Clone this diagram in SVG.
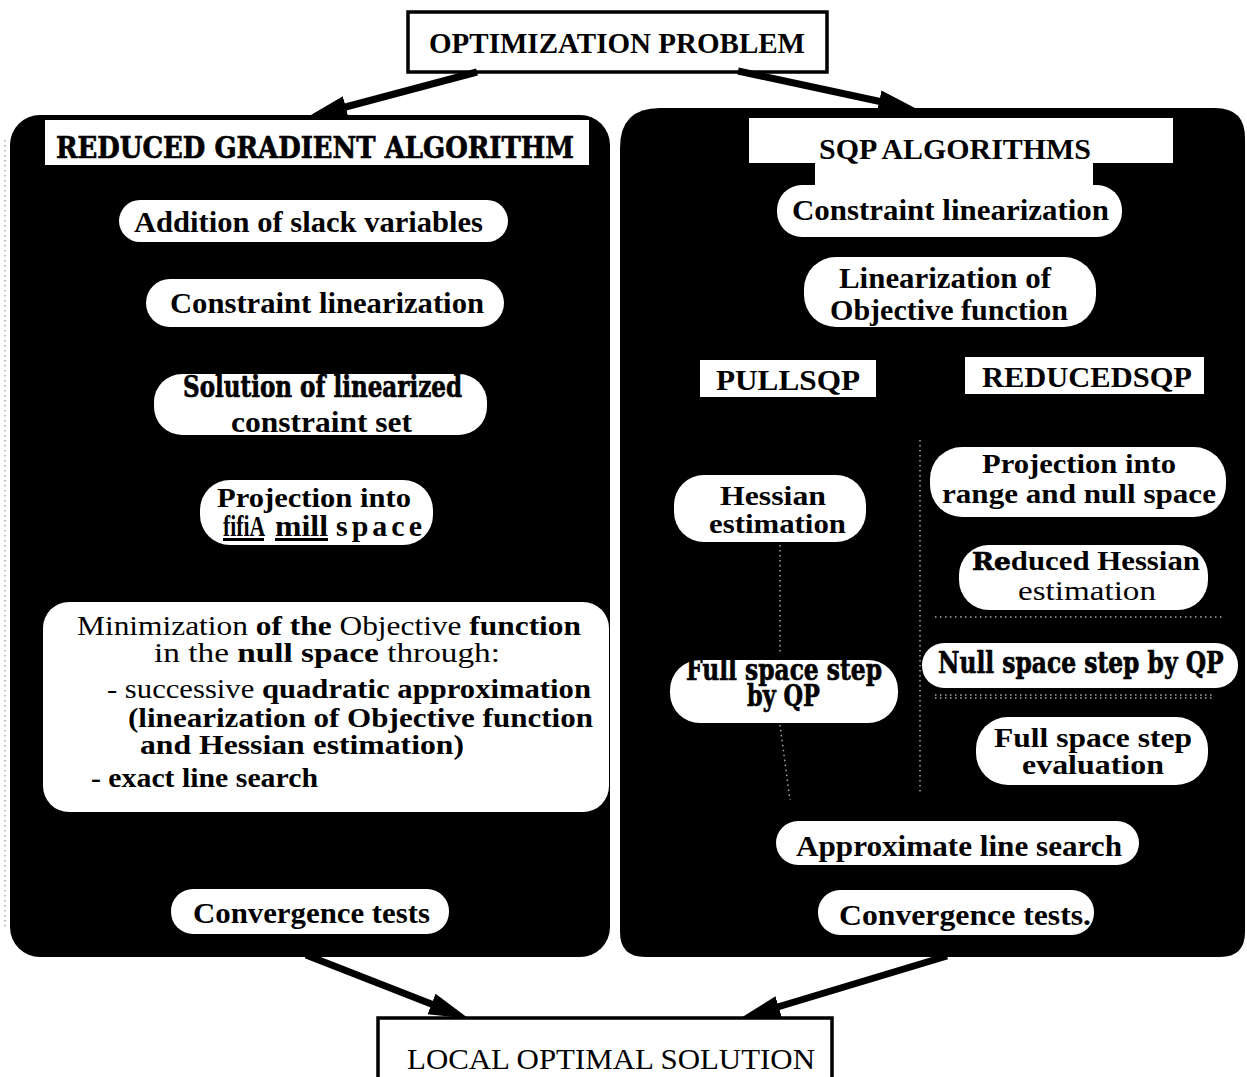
<svg xmlns="http://www.w3.org/2000/svg" width="1247" height="1077" viewBox="0 0 1247 1077">
<style>
.t{font-family:"Liberation Serif","Times New Roman",serif;font-weight:bold;font-size:30px;fill:#000}
.r{font-weight:normal}
.h{font-family:"DejaVu Serif","Liberation Serif",serif;font-weight:bold;stroke:#000;stroke-width:0.7}
.s{font-size:28px}
.pill{fill:#fff}
.panel{fill:#000}
.box{fill:#fff;stroke:#000;stroke-width:3.5}
.dot{stroke:#aaa;stroke-width:1.5;stroke-dasharray:1.5 3.5;fill:none}
.conn{stroke:#000;stroke-width:7;fill:none;marker-end:url(#ah)}
</style>
<defs>
<marker id="ah" markerUnits="userSpaceOnUse" viewBox="0 0 40 24" refX="8" refY="12" markerWidth="40" markerHeight="24" orient="auto">
<path d="M0,1 L40,12 L0,23 Z" fill="#000"/>
</marker>
</defs>
<rect width="1247" height="1077" fill="#fff"/>

<g id="top-node">
<rect class="box" x="408" y="12" width="419" height="60"/>
<text class="t" x="429" y="53" font-size="34" textLength="376" lengthAdjust="spacingAndGlyphs">OPTIMIZATION PROBLEM</text>
</g>

<g id="reduced-gradient-panel">
<rect class="panel" x="10" y="115" width="600" height="842" rx="30"/>
<line class="dot" x1="5" y1="140" x2="5" y2="930"/>
<rect fill="#fff" x="45" y="120" width="544" height="45"/>
<text class="t h" x="56" y="158" font-size="23" textLength="518" lengthAdjust="spacingAndGlyphs">REDUCED GRADIENT ALGORITHM</text>
</g>

<g id="sqp-panel">
<path class="panel" d="M660,108 H1215 Q1245,108 1245,138 V932 Q1245,957 1220,957 H645 Q620,957 620,932 V148 Q620,108 660,108 Z"/>
<path fill="#fff" d="M749,118 H1173 V163 H1093 V200 H815 V163 H749 Z"/>
<text class="t" x="819" y="159" font-size="32" textLength="272" lengthAdjust="spacingAndGlyphs">SQP ALGORITHMS</text>
<line class="dot" x1="920" y1="440" x2="920" y2="795"/>
<line class="dot" x1="780" y1="545" x2="780" y2="655"/>
<line class="dot" x1="780" y1="725" x2="790" y2="800"/>
<line class="dot" x1="935" y1="617" x2="1225" y2="617"/>
<line class="dot" x1="935" y1="695" x2="1215" y2="695"/>
<line class="dot" x1="935" y1="698" x2="1215" y2="698"/>
</g>

<g id="n-addition">
<rect class="pill" x="119" y="200" width="389" height="42" rx="21"/>
<text class="t" x="134" y="232" textLength="349" lengthAdjust="spacingAndGlyphs">Addition of slack variables</text>
</g>
<g id="n-constraint-lin-left">
<rect class="pill" x="146" y="279" width="358" height="48" rx="24"/>
<text class="t" x="170" y="313" textLength="314" lengthAdjust="spacingAndGlyphs">Constraint linearization</text>
</g>
<g id="n-solution">
<rect class="pill" x="154" y="374" width="333" height="61" rx="28"/>
<text class="t h" x="183" y="397" font-size="23" textLength="279" lengthAdjust="spacingAndGlyphs">Solution of linearized</text>
<text class="t" x="231" y="432" textLength="181" lengthAdjust="spacingAndGlyphs">constraint set</text>
</g>
<g id="n-projection-left">
<rect class="pill" x="200" y="480" width="233" height="65" rx="30"/>
<text class="t s" x="217" y="507" textLength="194" lengthAdjust="spacingAndGlyphs">Projection into</text>
<text class="t" y="536" font-size="22"><tspan x="223" text-decoration="underline" textLength="41" lengthAdjust="spacingAndGlyphs">fifiA</tspan> <tspan x="275" text-decoration="underline" textLength="53" lengthAdjust="spacingAndGlyphs">mill</tspan> <tspan x="336" letter-spacing="4">space</tspan></text>
</g>
<g id="n-minimization">
<rect class="pill" x="43" y="602" width="566" height="210" rx="26"/>
<text class="t s" x="77" y="635" textLength="504" lengthAdjust="spacingAndGlyphs"><tspan class="r">Minimization </tspan>of the<tspan class="r"> Objective </tspan>function</text>
<text class="t s" x="154" y="662" textLength="346" lengthAdjust="spacingAndGlyphs"><tspan class="r">in the </tspan>null space<tspan class="r"> through:</tspan></text>
<text class="t s" x="107" y="698" textLength="484" lengthAdjust="spacingAndGlyphs"><tspan class="r">- successive </tspan>quadratic approximation</text>
<text class="t s" x="128" y="727" textLength="465" lengthAdjust="spacingAndGlyphs">(linearization of Objective function</text>
<text class="t s" x="140" y="754" textLength="324" lengthAdjust="spacingAndGlyphs">and Hessian estimation)</text>
<text class="t s" x="91" y="787" textLength="227" lengthAdjust="spacingAndGlyphs">- exact line search</text>
</g>
<g id="n-convergence-left">
<rect class="pill" x="171" y="889" width="278" height="45" rx="22"/>
<text class="t" x="193" y="923" textLength="237" lengthAdjust="spacingAndGlyphs">Convergence tests</text>
</g>

<g id="n-constraint-lin-right">
<rect class="pill" x="777" y="185" width="345" height="52" rx="25"/>
<text class="t" x="792" y="220" textLength="317" lengthAdjust="spacingAndGlyphs">Constraint linearization</text>
</g>
<g id="n-linearization-obj">
<rect class="pill" x="804" y="257" width="292" height="70" rx="32"/>
<text class="t" x="839" y="288" textLength="212" lengthAdjust="spacingAndGlyphs">Linearization of</text>
<text class="t" x="830" y="320" textLength="238" lengthAdjust="spacingAndGlyphs">Objective function</text>
</g>
<g id="n-fullsqp">
<rect fill="#fff" x="700" y="360" width="176" height="37"/>
<text class="t" x="716" y="390" textLength="144" lengthAdjust="spacingAndGlyphs">PULLSQP</text>
</g>
<g id="n-reducedsqp">
<rect fill="#fff" x="965" y="357" width="239" height="37"/>
<text class="t" x="982" y="387" textLength="210" lengthAdjust="spacingAndGlyphs">REDUCEDSQP</text>
</g>
<g id="n-hessian">
<rect class="pill" x="674" y="475" width="192" height="67" rx="30"/>
<text class="t s" x="720" y="505" textLength="106" lengthAdjust="spacingAndGlyphs">Hessian</text>
<text class="t s" x="709" y="533" textLength="137" lengthAdjust="spacingAndGlyphs">estimation</text>
</g>
<g id="n-projection-right">
<rect class="pill" x="930" y="447" width="296" height="70" rx="32"/>
<text class="t s" x="982" y="473" textLength="194" lengthAdjust="spacingAndGlyphs">Projection into</text>
<text class="t s" x="942" y="503" textLength="274" lengthAdjust="spacingAndGlyphs">range and null space</text>
</g>
<g id="n-reduced-hessian">
<rect class="pill" x="959" y="545" width="249" height="65" rx="30"/>
<text class="t s" x="972" y="570" textLength="228" lengthAdjust="spacingAndGlyphs"><tspan class="h" font-size="24">Re</tspan>duced Hessian</text>
<text class="t r s" x="1018" y="600" textLength="138" lengthAdjust="spacingAndGlyphs">estimation</text>
</g>
<g id="n-fullstep-qp">
<rect class="pill" x="670" y="660" width="228" height="63" rx="30"/>
<text class="t h" x="686" y="680" font-size="20" textLength="196" lengthAdjust="spacingAndGlyphs">Full space step</text>
<text class="t h" x="747" y="706" font-size="20" textLength="73" lengthAdjust="spacingAndGlyphs">by QP</text>
</g>
<g id="n-nullstep-qp">
<rect class="pill" x="922" y="643" width="316" height="45" rx="22"/>
<text class="t h" transform="translate(938,673) scale(0.8,1)" x="0" y="0" font-size="23" textLength="357" lengthAdjust="spacingAndGlyphs">Null space step by QP</text>
</g>
<g id="n-fullstep-eval">
<rect class="pill" x="976" y="717" width="232" height="68" rx="32"/>
<text class="t s" x="994" y="747" textLength="198" lengthAdjust="spacingAndGlyphs">Full space step</text>
<text class="t s" x="1022" y="774" textLength="142" lengthAdjust="spacingAndGlyphs">evaluation</text>
</g>
<g id="n-approx-line">
<rect class="pill" x="776" y="821" width="363" height="44" rx="22"/>
<text class="t" x="796" y="856" textLength="326" lengthAdjust="spacingAndGlyphs">Approximate line search</text>
</g>
<g id="n-convergence-right">
<rect class="pill" x="818" y="890" width="276" height="45" rx="22"/>
<text class="t" x="839" y="925" textLength="252" lengthAdjust="spacingAndGlyphs">Convergence tests.</text>
</g>

<g id="bottom-node">
<rect class="box" x="378" y="1018" width="454" height="80"/>
<text class="t r" x="407" y="1069" font-size="33" textLength="408" lengthAdjust="spacingAndGlyphs">LOCAL OPTIMAL SOLUTION</text>
</g>

<g id="connectors">
<line class="conn" x1="477" y1="72" x2="338" y2="109"/>
<line class="conn" x1="738" y1="71" x2="887" y2="103"/>
<line class="conn" x1="306" y1="955" x2="439" y2="1007"/>
<line class="conn" x1="947" y1="956" x2="771" y2="1009"/>
</g>
</svg>
